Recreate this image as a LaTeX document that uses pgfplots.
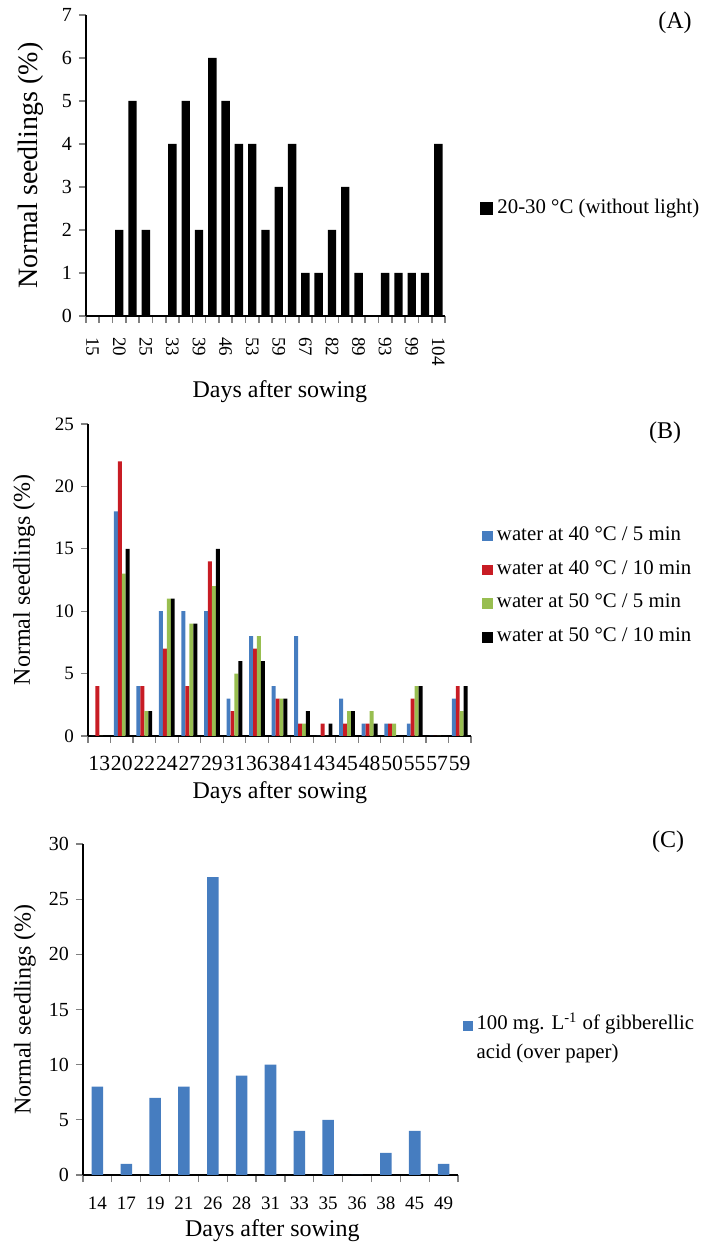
\documentclass[border=0pt]{standalone}
\usepackage{fontspec}
\setmainfont{Liberation Serif}
\usepackage{pgfplots}
\pgfplotsset{compat=1.18}

\definecolor{xlsblue}{RGB}{70,125,192}
\definecolor{xlsred}{RGB}{200,28,36}
\definecolor{xlsgreen}{RGB}{152,190,80}

% common look of the three panels (Excel style, ticks between categories)
\pgfplotsset{
  panel/.style={
    scale only axis, anchor=south west,
    axis lines*=left, tick align=outside,
    major tick length=3.5pt,
    /pgf/number format/assume math mode=true,
    x tick label as interval,
    ymin=0, enlarge y limits=false,
    ybar, bar width=#1,
    legend cell align=left,
    legend style={draw=none, fill=none, anchor=west,
      font=\fontsize{10.4}{12.5}\selectfont,
      cells={anchor=base west, inner xsep=1pt}},
    label style={font=\fontsize{12}{14}\selectfont},
  },
}

\begin{document}
\begin{tikzpicture}
\useasboundingbox (0,0) rectangle (350.5pt,622.5pt);

% ---------------- (A)
\begin{axis}[panel=0.63,
  at={(43pt,464.5pt)}, width=179.5pt, height=150.5pt,
  xmin=-0.5, xmax=26.5, ymax=7, ytick={0,1,...,7},
  xtick={-0.5,0.5,...,26.5},
  xticklabels={15,{},20,{},25,{},33,{},39,{},46,{},53,{},59,{},67,{},82,{},89,{},93,{},99,{},104},
  xticklabel style={rotate=-90, anchor=west, font=\fontsize{9.5}{10}\selectfont, xshift=3.5pt},
  yticklabel style={font=\fontsize{10}{11}\selectfont},
  axis line style={line width=1pt}, tick style={line width=0.8pt},
  xlabel={Days after sowing}, ylabel={Normal seedlings (\%)},
  xlabel style={at={(axis description cs:0.54,-0.25)}, anchor=center},
  ylabel style={at={(axis description cs:-0.153,0.5)}, anchor=center, font=\fontsize{14}{16}\selectfont},
  legend style={at={(axis description cs:1.081,0.359)}},
  legend image code/.code={\fill[#1] (0pt,-0.6pt) rectangle (6.5pt,5.9pt);},
]
\addplot[fill=black, draw=none] coordinates {
  (0,0) (1,0) (2,2) (3,5) (4,2) (5,0) (6,4) (7,5) (8,2) (9,6) (10,5) (11,4) (12,4) (13,2)
  (14,3) (15,4) (16,1) (17,1) (18,2) (19,3) (20,1) (21,0) (22,1) (23,1) (24,1) (25,1) (26,4)};
\legend{20-30 °C (without light)}
\end{axis}

% ---------------- (B)
\begin{axis}[panel=0.175,
  at={(44pt,254.5pt)}, width=191.5pt, height=156pt,
  xmin=-0.5, xmax=16.5, ymax=25, ytick={0,5,...,25},
  xtick={-0.5,0.5,...,16.5},
  xticklabels={13,20,22,24,27,29,31,36,38,41,43,45,48,50,55,57,59},
  xticklabel style={font=\fontsize{10.8}{11}\selectfont, yshift=-3pt},
  yticklabel style={font=\fontsize{9.5}{11}\selectfont},
  axis line style={line width=0.7pt}, tick style={line width=0.6pt},
  xlabel={Days after sowing}, ylabel={Normal seedlings (\%)},
  xlabel style={at={(axis description cs:0.501,-0.183)}, anchor=center},
  ylabel style={at={(axis description cs:-0.167,0.5)}, anchor=center},
  legend style={at={(axis description cs:1.013,0.482)}, row sep=4.5pt},
  legend image code/.code={\fill[#1] (0pt,-0.5pt) rectangle (5.3pt,4.8pt);},
]
\addplot[fill=xlsblue, draw=none, bar shift=-0.2625] coordinates {
  (0,0) (1,18) (2,4) (3,10) (4,10) (5,10) (6,3) (7,8) (8,4) (9,8) (10,0) (11,3) (12,1) (13,1) (14,1) (15,0) (16,3)};
\addplot[fill=xlsred, draw=none, bar shift=-0.0875] coordinates {
  (0,4) (1,22) (2,4) (3,7) (4,4) (5,14) (6,2) (7,7) (8,3) (9,1) (10,1) (11,1) (12,1) (13,1) (14,3) (15,0) (16,4)};
\addplot[fill=xlsgreen, draw=none, bar shift=0.0875] coordinates {
  (0,0) (1,13) (2,2) (3,11) (4,9) (5,12) (6,5) (7,8) (8,3) (9,1) (10,0) (11,2) (12,2) (13,1) (14,4) (15,0) (16,2)};
\addplot[fill=black, draw=none, bar shift=0.2625] coordinates {
  (0,0) (1,15) (2,2) (3,11) (4,9) (5,15) (6,6) (7,6) (8,3) (9,2) (10,1) (11,2) (12,1) (13,0) (14,4) (15,0) (16,4)};
\legend{water at 40 °C / 5 min, water at 40 °C / 10 min, water at 50 °C / 5 min, water at 50 °C / 10 min}
\end{axis}

% ---------------- (C)
\begin{axis}[panel=0.4,
  at={(41.5pt,35pt)}, width=187.5pt, height=165.5pt,
  xmin=-0.5, xmax=12.5, ymax=30, ytick={0,5,...,30},
  xtick={-0.5,0.5,...,12.5},
  xticklabels={14,17,19,21,26,28,31,33,35,36,38,45,49},
  xticklabel style={font=\fontsize{9.5}{10}\selectfont, yshift=-4pt},
  yticklabel style={font=\fontsize{10}{11}\selectfont},
  axis line style={line width=0.7pt}, tick style={line width=0.6pt},
  xlabel={Days after sowing}, ylabel={Normal seedlings (\%)},
  xlabel style={at={(axis description cs:0.505,-0.168)}, anchor=center},
  ylabel style={at={(axis description cs:-0.155,0.5)}, anchor=center},
  legend style={at={(axis description cs:0.995,0.46)}},
  legend image code/.code={\fill[#1] (0pt,-0.5pt) rectangle (5pt,4.5pt);},
]
\addplot[fill=xlsblue, draw=none] coordinates {
  (0,8) (1,1) (2,7) (3,8) (4,27) (5,9) (6,10) (7,4) (8,5) (9,0) (10,2) (11,4) (12,1)};
\legend{\begin{tabular}[t]{@{}l@{}}100 mg. L\textsuperscript{-1} of gibberellic\\[2pt]acid (over paper)\end{tabular}}
\end{axis}

\node[font=\fontsize{12}{14}\selectfont] at (337.5pt,611pt) {(A)};
\node[font=\fontsize{12}{14}\selectfont] at (332.5pt,406pt) {(B)};
\node[font=\fontsize{12}{14}\selectfont] at (334pt,201.5pt) {(C)};
\end{tikzpicture}
\end{document}
